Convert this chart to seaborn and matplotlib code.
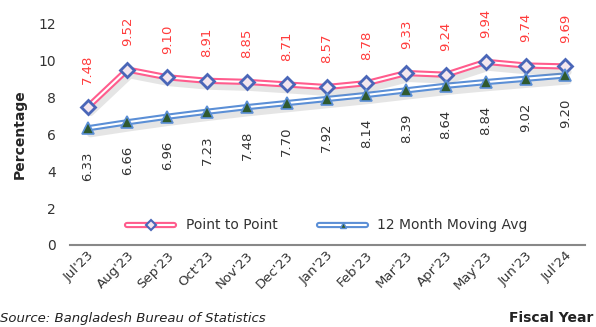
import numpy as np
import pandas as pd
import matplotlib
matplotlib.use("Agg")
import matplotlib.pyplot as plt
import matplotlib.patheffects as pe
from matplotlib.lines import Line2D
import seaborn as sns

months = ["Jul'23", "Aug'23", "Sep'23", "Oct'23", "Nov'23", "Dec'23", "Jan'23",
          "Feb'23", "Mar'23", "Apr'23", "May'23", "Jun'23", "Jul'24"]
point_to_point = [7.48, 9.52, 9.10, 8.91, 8.85, 8.71, 8.57, 8.78, 9.33, 9.24, 9.94, 9.74, 9.69]
moving_avg = [6.33, 6.66, 6.96, 7.23, 7.48, 7.70, 7.92, 8.14, 8.39, 8.64, 8.84, 9.02, 9.20]

df = pd.DataFrame({"Month": months, "idx": range(len(months)),
                   "Point to Point": point_to_point,
                   "12 Month Moving Avg": moving_avg})

sns.set_style("white")
plt.rcParams['font.family'] = ['DejaVu Sans']

pink = "#ff5c8d"
blue = "#5b8fd6"

fig = plt.figure(figsize=(5.96, 3.27), dpi=100)
ax = fig.add_axes([0.117, 0.251, 0.865, 0.676])


def double_line(color, shadow=True):
    effects = []
    if shadow:
        effects.append(pe.SimpleLineShadow(offset=(2, -4), shadow_color="gray", alpha=0.2, linewidth=5))
    effects += [pe.Stroke(linewidth=4.5, foreground=color), pe.Normal()]
    return effects


for col, color in [("12 Month Moving Avg", blue), ("Point to Point", pink)]:
    sns.lineplot(data=df, x="idx", y=col, ax=ax, color="white", linewidth=1.5,
                 path_effects=double_line(color), zorder=3)

ax.plot(df["idx"], df["Point to Point"], linestyle="none", marker="D", markersize=7,
        markerfacecolor="#f3e6ee", markeredgecolor="#4a66b8", markeredgewidth=2, zorder=5)
ax.plot(df["idx"], df["12 Month Moving Avg"], linestyle="none", marker="^", markersize=8,
        markerfacecolor="#2f5a2f", markeredgecolor="#5b8fd6", markeredgewidth=1.2, zorder=5)

for i, v in enumerate(point_to_point):
    ax.annotate(f"{v:.2f}", (i, v), xytext=(0, 17), textcoords="offset points",
                rotation=90, ha="center", va="bottom", color="#ff3b3b", fontsize=9.5)
for i, v in enumerate(moving_avg):
    ax.annotate(f"{v:.2f}", (i, v), xytext=(0, -17), textcoords="offset points",
                rotation=90, ha="center", va="top", color="#333333", fontsize=9.5)

ax.set_xlim(-0.45, 12.5)
ax.set_ylim(0, 12)
ax.set_yticks(range(0, 13, 2))
ax.set_xticks(df["idx"])
ax.set_xticklabels(months, rotation=45, ha="right", rotation_mode="anchor", fontsize=9.5, color="#333333")
ax.tick_params(axis="y", labelsize=10, colors="#333333", length=0, pad=10)
ax.tick_params(axis="x", length=0, pad=3)
ax.set_xlabel("")
ax.set_ylabel("Percentage", fontsize=10, fontweight="bold", labelpad=8)

for s in ["top", "right", "left"]:
    ax.spines[s].set_visible(False)
ax.spines["bottom"].set_color("#888888")
ax.spines["bottom"].set_linewidth(1.5)

line_p = Line2D([0], [0], color="white", linewidth=1.5, path_effects=double_line(pink, False))
mark_p = Line2D([0], [0], linestyle="none", marker="D", markersize=5, markerfacecolor="#f3e6ee",
                markeredgecolor="#4a66b8", markeredgewidth=1.5)
line_b = Line2D([0], [0], color="white", linewidth=1.5, path_effects=double_line(blue, False))
mark_b = Line2D([0], [0], linestyle="none", marker="^", markersize=5, markerfacecolor="#2f5a2f",
                markeredgecolor="#5b8fd6", markeredgewidth=1)
ax.legend([(line_p, mark_p), (line_b, mark_b)], ["Point to Point", "12 Month Moving Avg"], ncol=2,
          frameon=False, loc="lower center", bbox_to_anchor=(0.5, 0.0), fontsize=10, handlelength=3.4,
          columnspacing=3, labelcolor="#333333")

fig.text(0.0, 0.005, "Source: Bangladesh Bureau of Statistics", fontsize=9.5,
         style="italic", ha="left", va="bottom", color="#222222")
fig.text(0.995, 0.005, "Fiscal Year", fontsize=10, fontweight="bold", ha="right", va="bottom", color="#222222")

fig.savefig("out.png", dpi=100)
